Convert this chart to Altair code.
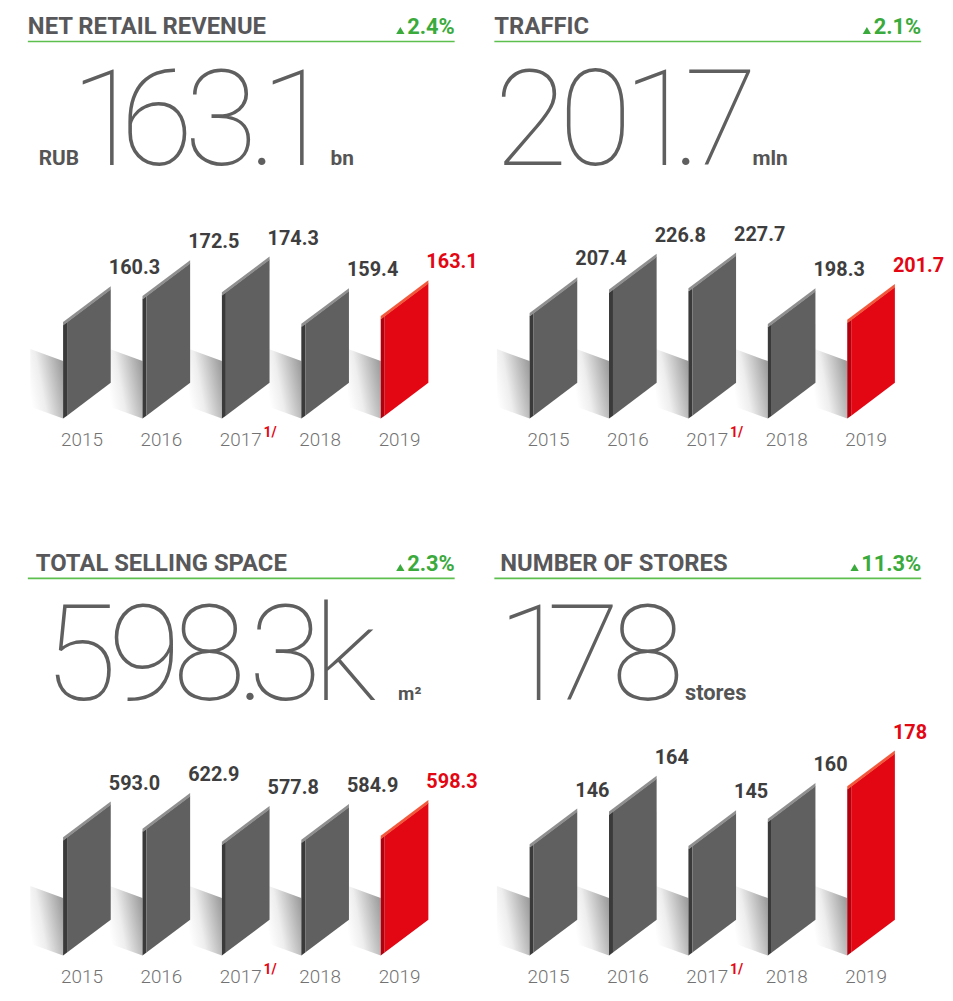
import altair as alt
import pandas as pd

# ---------------- data ----------------
YEARS = ["2015", "2016", "2017", "2018", "2019"]
NOTES = ["", "", "1/", "", ""]
TONES = ["base", "base", "base", "base", "hi"]

REVENUE = [160.3, 172.5, 174.3, 159.4, 163.1]
TRAFFIC = [207.4, 226.8, 227.7, 198.3, 201.7]
SPACE = [593.0, 622.9, 577.8, 584.9, 598.3]
STORES = [146, 164, 145, 160, 178]

TITLES = ["NET RETAIL REVENUE", "TRAFFIC", "TOTAL SELLING SPACE", "NUMBER OF STORES"]
CHANGES = ["2.4%", "2.1%", "2.3%", "11.3%"]
HEADLINES = ["163.1", "201.7", "598.3k", "178"]
PREFIXES = ["RUB", "", "", ""]
SUFFIXES = ["bn", "mln", "m²", "stores"]
DECIMALS = [1, 1, 1, 0]

# ---------------- styling / layout ----------------
W, H = 430, 440
SLOT = 80.0
BAR_OFF = 35.5
BAR_W = 48.0
SIDE_W = 4.0
RISE = 36.0
TOP_T = 3.0
BASE_Y = 410.0

GREY_FACE, GREY_SIDE, GREY_TOP = "#606060", "#3a3a3a", "#8f8f8f"
RED_FACE, RED_SIDE, RED_TOP = "#e30613", "#b0000d", "#f2583c"
LABEL_C = "#3e3e3e"
TITLE_C = "#58585a"
GREEN_T = "#3aaa3c"
GREEN_L = "#5cbf4e"
YEAR_C = "#727272"
BIG_C = "#5f5f5f"
FONT = "Roboto"

# per-panel scale (value offset, px per unit) and header placement
SCALES = [(116.2, 2.14), (122.5, 1.219), (188.4, 0.287), (86.1, 1.824)]
TITLE_X = [0, 0, 8, 6]
BIG_X = [43, 0, 16, 3]
BIG_Y = [154, 154, 152, 152]
PREFIX_POS = [(11, 154), None, None, None]
SUFFIX_POS = [(305, 154, 21), (260, 154, 21), (373, 152, 19), (192, 152, 22)]

BIG_FS = 135
BIG_TRACK = -11
BIG_ADV = {"1": 0.45, ".": 0.17, "k": 0.5}
PCT_FS = 22
PCT_ADV = {".": 0.27, "%": 0.73}

shadow_grad = alt.Gradient(
    gradient="linear",
    stops=[alt.GradientStop(color="#ffffff", offset=0),
           alt.GradientStop(color="#eeeeee", offset=0.35),
           alt.GradientStop(color="#9e9e9e", offset=1)],
    x1=0, y1=0.7, x2=1, y2=0.3,
)


def tone_color(hi, base):
    return alt.when(alt.datum.tone == "hi").then(alt.value(hi)).otherwise(alt.value(base))


def panel(k, values):
    base, ppu = SCALES[k]
    u = 1.0 / ppu
    dmin = base - (H - BASE_Y) * u
    dmax = dmin + H * u
    xs = alt.Scale(domain=[0, W / SLOT], nice=False, zero=False)
    ys = alt.Scale(domain=[dmin, dmax], nice=False, zero=False)

    parts = {"shadow": [], "side": [], "face": [], "top": []}
    bars = []
    for i, (yr, v, tone, note) in enumerate(zip(YEARS, values, TONES, NOTES)):
        L = i + BAR_OFF / SLOT

        def X(px):
            return L + px / SLOT

        def s(px):
            return RISE * px / BAR_W * u

        parts["shadow"] += [
            dict(bar=yr, tone=tone, x=X(-33), y=base + 12 * u, y2=base + 70 * u),
            dict(bar=yr, tone=tone, x=X(0), y=base, y2=base + 58 * u),
        ]
        for px in (0, SIDE_W):
            parts["side"].append(dict(bar=yr, tone=tone, x=X(px), y=base + s(px), y2=v + s(px)))
        for px in (SIDE_W, BAR_W):
            parts["face"].append(dict(bar=yr, tone=tone, x=X(px), y=base + s(px), y2=v + s(px)))
        for px in (0, BAR_W):
            parts["top"].append(dict(bar=yr, tone=tone, x=X(px), y=v + s(px) - 0.5 * u,
                                     y2=v + s(px) + TOP_T * u))
        label = f"{v:.{DECIMALS[k]}f}"
        bars.append(dict(year=yr, tone=tone, note=note, label=label,
                         lx=X(BAR_W - 2), ly=v + (RISE + 21) * u,
                         yx=X(19), nx=X(42)))
    bars = pd.DataFrame(bars)

    ex = lambda f: alt.X(f"{f}:Q", scale=xs, axis=None)
    ey = lambda f: alt.Y(f"{f}:Q", scale=ys, axis=None)

    layers = []
    layers.append(alt.Chart(pd.DataFrame(parts["shadow"])).mark_area(color=shadow_grad).encode(
        x=ex("x"), y=ey("y"), y2="y2:Q", detail="bar:N"))
    for part, hi, lo in (("side", RED_SIDE, GREY_SIDE), ("face", RED_FACE, GREY_FACE), ("top", RED_TOP, GREY_TOP)):
        layers.append(alt.Chart(pd.DataFrame(parts[part])).mark_area().encode(
            x=ex("x"), y=ey("y"), y2="y2:Q", detail="bar:N", color=tone_color(hi, lo)))

    layers.append(alt.Chart(bars).mark_text(
        align="left", baseline="middle", font=FONT, fontWeight="bold", fontSize=20).encode(
        x=ex("lx"), y=ey("ly"), text="label:N", color=tone_color(RED_FACE, LABEL_C)))
    layers.append(alt.Chart(bars).mark_text(
        align="center", baseline="alphabetic", font=FONT, fontWeight=300, fontSize=19, color=YEAR_C).encode(
        x=ex("yx"), y=alt.value(438), text="year:N"))
    layers.append(alt.Chart(bars[bars.note != ""]).mark_text(
        align="left", baseline="alphabetic", font=FONT, fontWeight="bold", fontSize=14, color=RED_FACE).encode(
        x=ex("nx"), y=alt.value(429), text="note:N"))

    # header
    layers.append(alt.Chart(pd.DataFrame({"t": [TITLES[k]]})).mark_text(
        align="left", baseline="alphabetic", font=FONT, fontWeight="bold", fontSize=24, color=TITLE_C).encode(
        x=alt.value(TITLE_X[k]), y=alt.value(23), text="t:N"))
    layers.append(alt.Chart(pd.DataFrame({"a": [0]})).mark_rule(color=GREEN_L, strokeWidth=1.6).encode(
        x=alt.value(0), x2=alt.value(W), y=alt.value(30)))
    layers.append(alt.Chart(pd.DataFrame({"t": [CHANGES[k]]})).mark_text(
        align="right", baseline="alphabetic", font=FONT, fontWeight="bold", fontSize=PCT_FS, color=GREEN_T).encode(
        x=alt.value(W), y=alt.value(23), text="t:N"))
    pw = sum(PCT_ADV.get(c, 0.562) for c in CHANGES[k]) * PCT_FS
    layers.append(alt.Chart(pd.DataFrame({"a": [0]})).mark_point(
        shape="triangle-up", filled=True, size=70, color=GREEN_T, opacity=1).encode(
        x=alt.value(W - pw - 8), y=alt.value(19)))

    chars = []
    cx = BIG_X[k]
    for ch in HEADLINES[k]:
        chars.append(dict(ch=ch, cx=cx / SLOT))
        cx += BIG_ADV.get(ch, 0.5615) * BIG_FS + BIG_TRACK
    layers.append(alt.Chart(pd.DataFrame(chars)).mark_text(
        align="left", baseline="alphabetic", font=FONT, fontWeight=100, fontSize=BIG_FS, color=BIG_C).encode(
        x=ex("cx"), y=alt.value(BIG_Y[k]), text="ch:N"))

    if PREFIXES[k]:
        px_, py_ = PREFIX_POS[k]
        layers.append(alt.Chart(pd.DataFrame({"t": [PREFIXES[k]]})).mark_text(
            align="left", baseline="alphabetic", font=FONT, fontWeight="bold", fontSize=21, color="#555555").encode(
            x=alt.value(px_), y=alt.value(py_), text="t:N"))
    sx, sy, sf = SUFFIX_POS[k]
    layers.append(alt.Chart(pd.DataFrame({"t": [SUFFIXES[k]]})).mark_text(
        align="left", baseline="alphabetic", font=FONT, fontWeight="bold", fontSize=sf, color="#555555").encode(
        x=alt.value(sx), y=alt.value(sy), text="t:N"))

    return alt.layer(*layers).properties(width=W, height=H)


p1 = panel(0, REVENUE)
p2 = panel(1, TRAFFIC)
p3 = panel(2, SPACE)
p4 = panel(3, STORES)

chart = alt.concat(
    p1, p2, p3, p4, columns=2, bounds="flush",
    spacing={"row": 101, "column": 40},
).properties(padding={"left": 19, "top": 0, "right": 0, "bottom": 0}).configure_view(stroke=None)

chart.save("out.html", embed_options={"renderer": "svg", "actions": False})
